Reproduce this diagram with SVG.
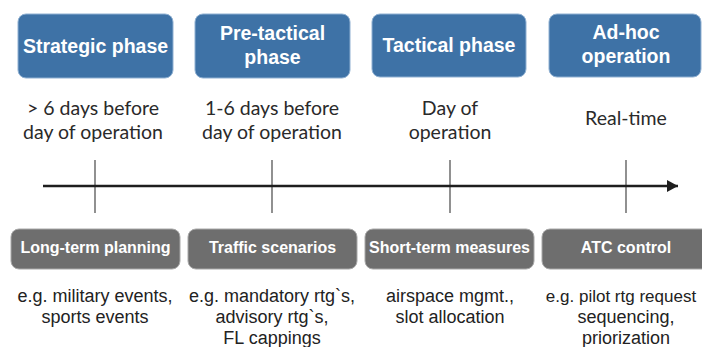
<svg xmlns="http://www.w3.org/2000/svg" width="702" height="347" viewBox="0 0 702 347">
  <style>
    .phase rect { fill: #3e72a6; stroke: #8fb0d2; stroke-width: 1; }
    .phase text { fill: #ffffff; font-family: "Liberation Sans", Arial, sans-serif; font-weight: bold; font-size: 19.5px; text-anchor: middle; }
    .when text { fill: #2a2a2a; font-family: Lato, "Open Sans", sans-serif; font-size: 19.5px; text-anchor: middle; }
    .act rect { fill: #6e6e6e; stroke: #a8a8a8; stroke-width: 1; }
    .act text { fill: #ffffff; font-family: "Liberation Sans", Arial, sans-serif; font-weight: bold; font-size: 16px; text-anchor: middle; }
    .ex text { fill: #222222; font-family: "Liberation Sans", Arial, sans-serif; font-size: 18px; text-anchor: middle; }
    .tick { stroke: #555555; stroke-width: 1.3; }
    .axis { stroke: #1e1e1e; stroke-width: 2.5; fill: none; }
  </style>
  <defs>
    <marker id="arrowhead" markerUnits="userSpaceOnUse" markerWidth="12" markerHeight="12" refX="11" refY="6" orient="auto">
      <path d="M0,0 L11,6 L0,12 Z" fill="#1e1e1e"/>
    </marker>
  </defs>
  <rect width="702" height="347" fill="#ffffff"/>

  <!-- timeline -->
  <g id="connectors">
    <line class="tick" x1="95" y1="160" x2="95" y2="213"/>
    <line class="tick" x1="272" y1="160" x2="272" y2="213"/>
    <line class="tick" x1="450" y1="160" x2="450" y2="213"/>
    <line class="tick" x1="626" y1="160" x2="626" y2="213"/>
    <line class="axis" x1="43" y1="186" x2="678" y2="186" marker-end="url(#arrowhead)"/>
  </g>

  <!-- phases -->
  <g id="phase-strategic" class="phase">
    <rect x="18" y="14" width="155" height="64" rx="8"/>
    <text x="95.5" y="53">Strategic phase</text>
  </g>
  <g id="phase-pretactical" class="phase">
    <rect x="195" y="14" width="155" height="64" rx="8"/>
    <text x="272.5" y="40">Pre-tactical</text>
    <text x="272.5" y="64">phase</text>
  </g>
  <g id="phase-tactical" class="phase">
    <rect x="372" y="14" width="154" height="63" rx="8"/>
    <text x="449" y="52">Tactical phase</text>
  </g>
  <g id="phase-adhoc" class="phase">
    <rect x="549" y="14" width="152" height="63" rx="8"/>
    <text x="626" y="39">Ad-hoc</text>
    <text x="626" y="63">operation</text>
  </g>

  <!-- time horizons -->
  <g id="when-strategic" class="when">
    <text x="93" y="115">&gt; 6 days before</text>
    <text x="93" y="139">day of operation</text>
  </g>
  <g id="when-pretactical" class="when">
    <text x="272" y="115">1-6 days before</text>
    <text x="272" y="139">day of operation</text>
  </g>
  <g id="when-tactical" class="when">
    <text x="450" y="115">Day of</text>
    <text x="450" y="139">operation</text>
  </g>
  <g id="when-adhoc" class="when">
    <text x="626" y="125">Real-time</text>
  </g>

  <!-- activities -->
  <g id="act-longterm" class="act">
    <rect x="11" y="229" width="169" height="40" rx="8"/>
    <text x="95.5" y="253">Long-term planning</text>
  </g>
  <g id="act-traffic" class="act">
    <rect x="188" y="229" width="169" height="40" rx="8"/>
    <text x="272.5" y="253">Traffic scenarios</text>
  </g>
  <g id="act-shortterm" class="act">
    <rect x="365" y="229" width="169" height="40" rx="8"/>
    <text x="449.5" y="253">Short-term measures</text>
  </g>
  <g id="act-atc" class="act">
    <rect x="542" y="229" width="170" height="40" rx="8"/>
    <text x="626" y="253">ATC control</text>
  </g>

  <!-- examples -->
  <g id="ex-longterm" class="ex">
    <text x="95" y="302">e.g. military events,</text>
    <text x="95" y="323">sports events</text>
  </g>
  <g id="ex-traffic" class="ex">
    <text x="272" y="302">e.g. mandatory rtg`s,</text>
    <text x="272" y="323">advisory rtg`s,</text>
    <text x="272" y="344">FL cappings</text>
  </g>
  <g id="ex-shortterm" class="ex">
    <text x="450" y="302">airspace mgmt.,</text>
    <text x="450" y="323">slot allocation</text>
  </g>
  <g id="ex-atc" class="ex">
    <text x="621" y="302" style="font-size:17px">e.g. pilot rtg request</text>
    <text x="626" y="323">sequencing,</text>
    <text x="626" y="344">priorization</text>
  </g>
</svg>
